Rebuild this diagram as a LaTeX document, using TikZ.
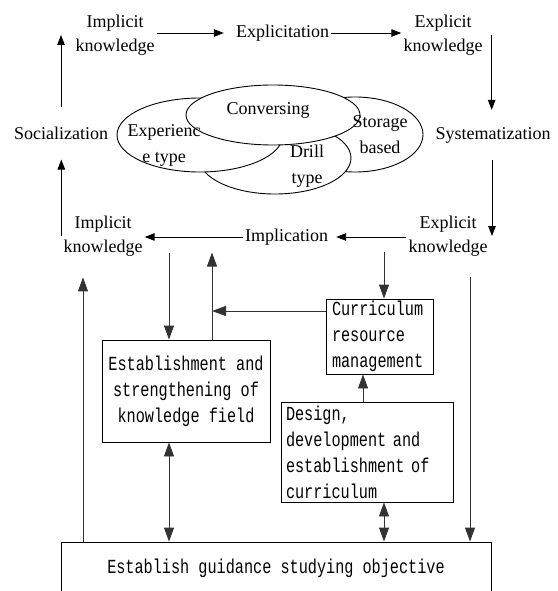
\documentclass[tikz,border=0pt]{standalone}
\usepackage{fontspec}
\setmainfont{Liberation Serif}
\newfontfamily\boxfont[FakeStretch=0.76]{Liberation Mono}
\usetikzlibrary{arrows.meta,shapes.geometric,calc}
\begin{document}
\begin{tikzpicture}[x=1pt,y=-1pt,
  lab/.style={font=\fontsize{18}{24}\selectfont, align=center, inner sep=2pt},
  ovl/.style={draw, ellipse, fill=white, inner sep=0pt, line width=0.9pt},
  ovtxt/.style={font=\fontsize{18}{26}\selectfont, align=center, inner sep=0pt},
  box/.style={draw, line width=0.9pt, font=\boxfont\fontsize{20}{26}\selectfont, inner sep=0pt},
  arr/.style={-{Triangle[length=10pt,width=7.5pt]}, line width=0.9pt},
  barr/.style={-{Triangle[length=14pt,width=10pt]}, line width=0.9pt, black!80},
  dbarr/.style={{Triangle[length=14pt,width=10pt]}-{Triangle[length=14pt,width=10pt]}, line width=0.9pt, black!80}]
\clip (0,0) rectangle (557,591);

% top cycle labels
\node[lab] (ik1) at (115,35) {Implicit\\knowledge};
\node[lab] (expl) at (282.5,33) {Explicitation};
\node[lab] (ek1) at (443,35) {Explicit\\knowledge};
\node[lab] (sys) at (493,135) {Systematization};
\node[lab] (ek2) at (448,236) {Explicit\\knowledge};
\node[lab] (impl) at (286.5,237) {Implication};
\node[lab] (ik2) at (103,236) {Implicit\\knowledge};
\node[lab] (soc) at (61,133) {Socialization};

% top cycle arrows
\draw[arr] (ik1.east |- expl.west) -- ([xshift=-10pt]expl.west);
\draw[arr] (expl.east) -- (ek1.west |- expl.east);
\coordinate (k1) at ([xshift=7pt]ek1.east);
\draw[arr, shorten >=15pt] (k1) -- (k1 |- sys.north);
\draw[arr, shorten <=15pt] ([xshift=-1pt]sys.south) -- ([xshift=-1pt]sys.south |- ek2.center);
\draw[arr] (ek2.west |- impl.east) -- ([xshift=6pt]impl.east);
\draw[arr] (impl.west) -- (ik2.east |- impl.west);
\draw[arr, shorten >=18pt] (ik2.west) -- (ik2.west |- soc.south);
\draw[arr, shorten <=17pt] (soc.north) -- (soc.north |- ik1.center);

% ellipses
\node[ovl, minimum width=136pt, minimum height=75pt] (stor) at (355,134.5) {};
\node[ovl, minimum width=152pt, minimum height=72pt] (drill) at (275,158) {};
\node[ovl, minimum width=166pt, minimum height=74pt] (expe) at (200,135) {};
\node[ovl, minimum width=174pt, minimum height=60pt] (conv) at (273,115) {};
\node[ovtxt] (tconv) at (268,110) {Conversing};
\node[ovtxt] (texp) at (164,145) {Experienc\\e type};
\node[ovtxt] (tdrill) at (307,166.5) {Drill\\type};
\node[ovtxt] (tstor) at (380,135) {Storage\\based};

% boxes
\node[box, minimum width=168pt, minimum height=102pt, align=center] (estab) at (186,391) {Establishment and\\strengthening of\\knowledge field};
\node[box, text width=95pt, inner xsep=6pt, minimum height=75pt, align=left] (curr) at (379.5,336.5) {Curriculum\\resource\\management};
\node[box, text width=162pt, inner xsep=5pt, minimum height=100pt, align=left] (des) at (367,452) {Design,\\development and\\establishment of\\curriculum};
\node[box, minimum width=430pt, minimum height=52pt] (goal) at (276,568) {Establish guidance studying objective};

% helper coordinates
\coordinate (e1) at ([xshift=-17pt]estab.north);
\coordinate (e2) at ([xshift=26pt]estab.north);
\coordinate (c1) at ([yshift=25.5pt]curr.west);
\coordinate (c2) at ([xshift=4.5pt]curr.north);
\coordinate (d1) at ([xshift=-4pt]des.north);
\coordinate (g1) at ([xshift=194pt]goal.north);
\coordinate (g2) at ([xshift=-193pt]goal.north);

% lower arrows
\draw[barr, shorten <=-5pt] (e1 |- ik2.south) -- (e1);
\draw[barr] (e2) -- ++(0,-87);
\draw[barr] (c1) -- (c1 -| e2);
\draw[barr, shorten <=5pt] (c2 |- impl.south) -- (c2);
\draw[barr] (d1) -- (d1 |- curr.south);
\draw[dbarr] (e1 |- estab.south) -- (e1 |- goal.north);
\draw[dbarr] (c2 |- des.south) -- (c2 |- goal.north);
\draw[barr, shorten <=19pt] (g1 |- ek2.south) -- (g1);
\draw[barr, shorten >=19pt] (g2) -- (g2 |- ik2.south);
\end{tikzpicture}
\end{document}
